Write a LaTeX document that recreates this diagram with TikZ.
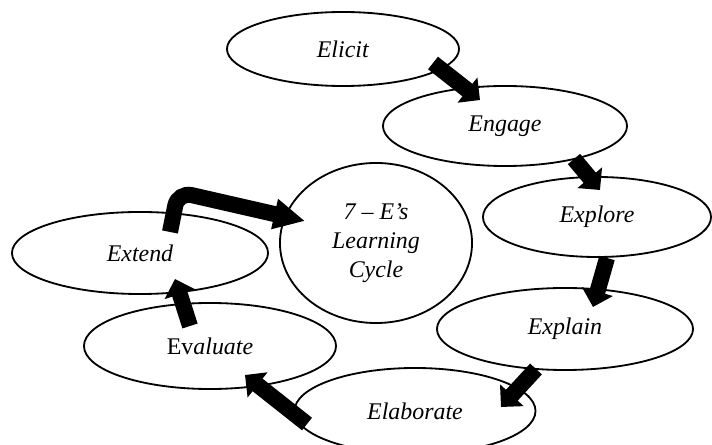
\documentclass[tikz,border=0pt]{standalone}
\usepackage{fontspec}
\setmainfont{Liberation Serif}
\usetikzlibrary{shapes.geometric,arrows.meta,calc}

\tikzset{
  stage/.style={ellipse, draw, line width=1.3pt, inner sep=0pt,
    font=\fontsize{17}{20.5}\selectfont},
  blk/.style={line width=0.4cm, -{Triangle[width=0.78cm, length=0.4cm]}},
  bentblk/.style={line width=0.4cm, rounded corners=0.35cm,
    -{Triangle[width=0.72cm, length=0.78cm]}}
}

\begin{document}
\begin{tikzpicture}[x=0.025cm, y=-0.025cm]
  \useasboundingbox (0,0) rectangle (712,445);
  \clip (0,0) rectangle (712,445);
  % Define nodes
  \node[stage, minimum width=5.8cm, minimum height=1.85cm]  (elicit)    at (343,49)  {\textit{Elicit}};
  \node[stage, minimum width=6.1cm, minimum height=2.0cm]   (engage)    at (505,126) {\textit{Engage}};
  \node[stage, minimum width=5.7cm, minimum height=2.0cm]   (explore)   at (597,217) {\textit{Explore}};
  \node[stage, minimum width=6.4cm, minimum height=2.05cm]  (explain)   at (565,329) {\textit{Explain}};
  \node[stage, minimum width=6.025cm, minimum height=2.15cm] (elaborate) at (415,411) {\textit{Elaborate}};
  \node[stage, minimum width=6.3cm, minimum height=2.15cm]  (evaluate)  at (210,346) {Ev\textit{aluate}};
  \node[stage, minimum width=6.4cm, minimum height=2.05cm]  (extend)    at (140,253) {\textit{Extend}};
  \node[stage, minimum width=4.8cm, minimum height=4.0cm, align=center] (hub) at (376,243)
    {\textit{7 – E’s}\\\textit{Learning}\\\textit{Cycle}};
  % Arrows
  \draw[blk] ($(elicit)+(90,14)$)     -- ($(engage)+(-25,-26)$);
  \draw[blk] ($(engage)+(69,33)$)     -- ($(explore)+(3,-27)$);
  \draw[blk] ($(explore)+(10,41)$)    -- ($(explain)+(28,-22)$);
  \draw[blk] ($(explain)+(-29,40)$)   -- ($(elaborate)+(86,-4)$);
  \draw[blk] ($(elaborate)+(-108,13)$) -- ($(evaluate)+(35,29)$);
  \draw[blk] ($(evaluate)+(-20,-20)$) -- ($(extend)+(35,26)$);
  \draw[bentblk] ($(extend)+(30,-21)$) -- ++(8,-40) -- ($(hub)+(-71,-22)$);
\end{tikzpicture}
\end{document}
